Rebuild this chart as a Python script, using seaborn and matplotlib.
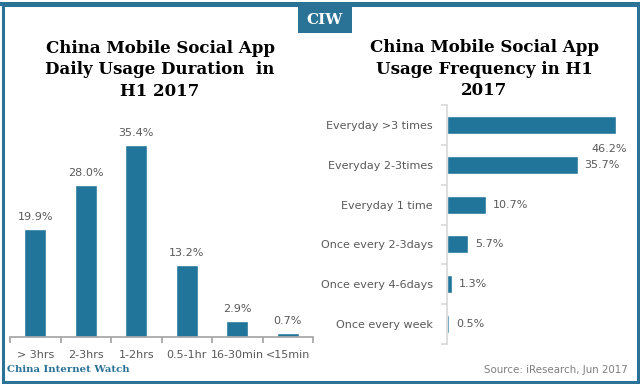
import matplotlib.pyplot as plt
import seaborn as sns
import pandas as pd
from matplotlib.patches import Rectangle

sns.set_theme(style="white")
plt.rcParams['font.family'] = ['DejaVu Sans']

# dados
duracao_cats = ['> 3hrs', '2-3hrs', '1-2hrs', '0.5-1hr', '16-30min', '<15min']
duracao_vals = [19.9, 28.0, 35.4, 13.2, 2.9, 0.7]
freq_cats = ['Everyday >3 times', 'Everyday 2-3times', 'Everyday 1 time',
             'Once every 2-3days', 'Once every 4-6days', 'Once every week']
freq_vals = [46.2, 35.7, 10.7, 5.7, 1.3, 0.5]

azul = '#21759b'
cinza = '#595959'
W, H = 640, 384

fig = plt.figure(figsize=(6.4, 3.84), dpi=100)

def px(x0, y0, x1, y1):
    # caixa em pixels (topo-esquerda) -> coordenadas da figura
    return [x0 / W, 1 - y1 / H, (x1 - x0) / W, (y1 - y0) / H]

# moldura
fig.add_artist(Rectangle((2.5 / W, 2.5 / H), (W - 5) / W, (H - 7) / H, transform=fig.transFigure,
                         fill=False, edgecolor='#2a7397', linewidth=2.2))
fig.add_artist(Rectangle((0, 1 - 6 / H), 1, 4 / H, transform=fig.transFigure,
                         color='#2a7397', linewidth=0))
fig.add_artist(Rectangle((298 / W, 1 - 33 / H), 54 / W, 27 / H, transform=fig.transFigure,
                         color='#2a7397', linewidth=0))
fig.text(325 / W, 1 - 20 / H, 'CIW', color='white', fontsize=11, fontweight='bold',
         family='DejaVu Serif', ha='center', va='center')

# grafico da esquerda
ax1 = fig.add_axes(px(10, 120, 313, 337))
df1 = pd.DataFrame({'cat': duracao_cats, 'val': duracao_vals})
sns.barplot(data=df1, x='cat', y='val', color=azul, saturation=1, width=0.44, ax=ax1)
ax1.set_ylim(0, 40)
ax1.set_xlim(-0.5, len(duracao_cats) - 0.5)
ax1.set_xlabel('')
ax1.set_ylabel('')
ax1.set_yticks([])
for s in ['top', 'right', 'left']:
    ax1.spines[s].set_visible(False)
ax1.spines['bottom'].set_color('#a6a6a6')
ax1.set_xticks([i + 0.5 for i in range(-1, len(duracao_cats))], minor=False)
ax1.set_xticklabels([])
ax1.set_xticks(range(len(duracao_cats)), minor=True)
ax1.set_xticklabels(duracao_cats, minor=True, fontsize=8, color=cinza)
ax1.tick_params(axis='x', which='major', length=4, color='#a6a6a6', bottom=True)
ax1.tick_params(axis='x', which='minor', length=0, pad=9, bottom=True)
ax1.bar_label(ax1.containers[0], labels=[f'{v:.1f}%' for v in duracao_vals],
              padding=5, fontsize=8, color=cinza)
fig.text(160 / W, 1 - 70 / H, 'China Mobile Social App\nDaily Usage Duration  in\nH1 2017',
         ha='center', va='center', fontsize=12, fontweight='bold', family='DejaVu Serif',
         color='black', linespacing=1.35)

# grafico da direita
ax2 = fig.add_axes(px(447, 105, 630, 344))
df2 = pd.DataFrame({'cat': freq_cats, 'val': freq_vals})
sns.barplot(data=df2, x='val', y='cat', orient='h', color=azul, saturation=1, width=0.45, ax=ax2)
ax2.set_xlim(0, 50)
ax2.set_ylim(len(freq_cats) - 0.5, -0.5)
ax2.set_xlabel('')
ax2.set_ylabel('')
ax2.set_xticks([])
for s in ['top', 'right', 'bottom']:
    ax2.spines[s].set_visible(False)
ax2.spines['left'].set_color('#d9d9d9')
ax2.set_yticks([i + 0.5 for i in range(-1, len(freq_cats))])
ax2.set_yticklabels([])
ax2.set_yticks(range(len(freq_cats)), minor=True)
ax2.set_yticklabels(freq_cats, minor=True, fontsize=8, color=cinza)
ax2.tick_params(axis='y', which='major', length=4, color='#d9d9d9', left=True)
ax2.tick_params(axis='y', which='minor', length=0, pad=10, left=True)
rotulos = [f'{v:.1f}%' for v in freq_vals]
rotulos[0] = ''
ax2.bar_label(ax2.containers[0], labels=rotulos, padding=5, fontsize=8, color=cinza)
ax2.annotate(f'{freq_vals[0]:.1f}%', xy=(freq_vals[0], 0), xytext=(8, -17),
             textcoords='offset points', ha='right', va='center', fontsize=8, color=cinza)
fig.text(484 / W, 1 - 69 / H, 'China Mobile Social App\nUsage Frequency in H1\n2017',
         ha='center', va='center', fontsize=12, fontweight='bold', family='DejaVu Serif',
         color='black', linespacing=1.35)

# rodape
fig.text(7 / W, 1 - 370 / H, 'China Internet Watch', fontsize=7.3, fontweight='bold',
         family='DejaVu Serif', color='#2a7397', ha='left', va='center')
fig.text(628 / W, 1 - 370 / H, 'Source: iResearch, Jun 2017', fontsize=7.4, color='#7f7f7f',
         ha='right', va='center')

fig.savefig('out.png', dpi=100)
